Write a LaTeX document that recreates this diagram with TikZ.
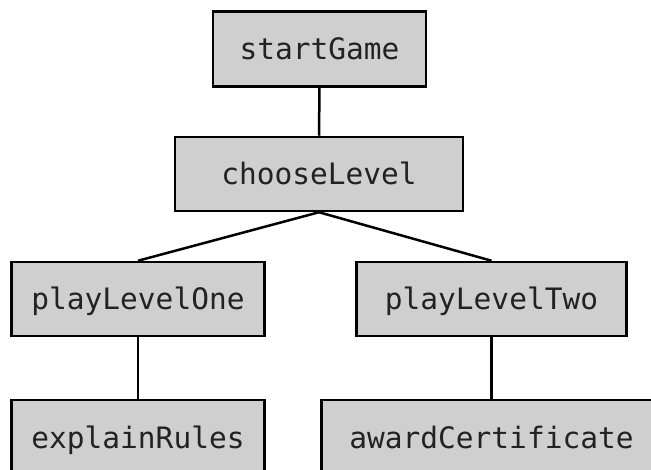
\documentclass[tikz,border=0pt]{standalone}
\usepackage{fontspec}
\setmonofont{DejaVu Sans Mono}
\definecolor{boxfill}{HTML}{CFCFCF}
\definecolor{txt}{HTML}{222222}
\begin{document}
\begin{tikzpicture}[x=1pt,y=-1pt,
  fbox/.style={draw=black,line width=2.5pt,fill=boxfill,inner sep=0pt,
    text=txt,text height=24pt,text depth=2pt,font=\ttfamily\fontsize{29.5}{32}\selectfont},
  link/.style={draw=black,line width=2.5pt}]
\useasboundingbox (0,0) rectangle (651,470);
\begin{scope}
\clip (0,0) rectangle (651,470);
\node[fbox,minimum width=213pt,minimum height=75pt] (start) at (319.5,49) {startGame};
\node[fbox,minimum width=288pt,minimum height=74pt] (choose) at (319,174) {chooseLevel};
\node[fbox,minimum width=253pt,minimum height=74pt] (one) at (138,299) {playLevelOne};
\node[fbox,minimum width=270pt,minimum height=74pt] (two) at (491.5,299) {playLevelTwo};
\node[fbox,minimum width=253pt,minimum height=74pt] (rules) at (138,437) {explainRules};
\node[fbox,minimum width=340pt,minimum height=74pt] (award) at (491.5,437) {awardCertificate};
\draw[link] (start.south) -- (choose.north);
\draw[link] (choose.south) -- (one.north);
\draw[link] (choose.south) -- (two.north);
\draw[link] (one.south) -- (rules.north);
\draw[link] (two.south) -- (award.north);
\end{scope}
\end{tikzpicture}
\end{document}
